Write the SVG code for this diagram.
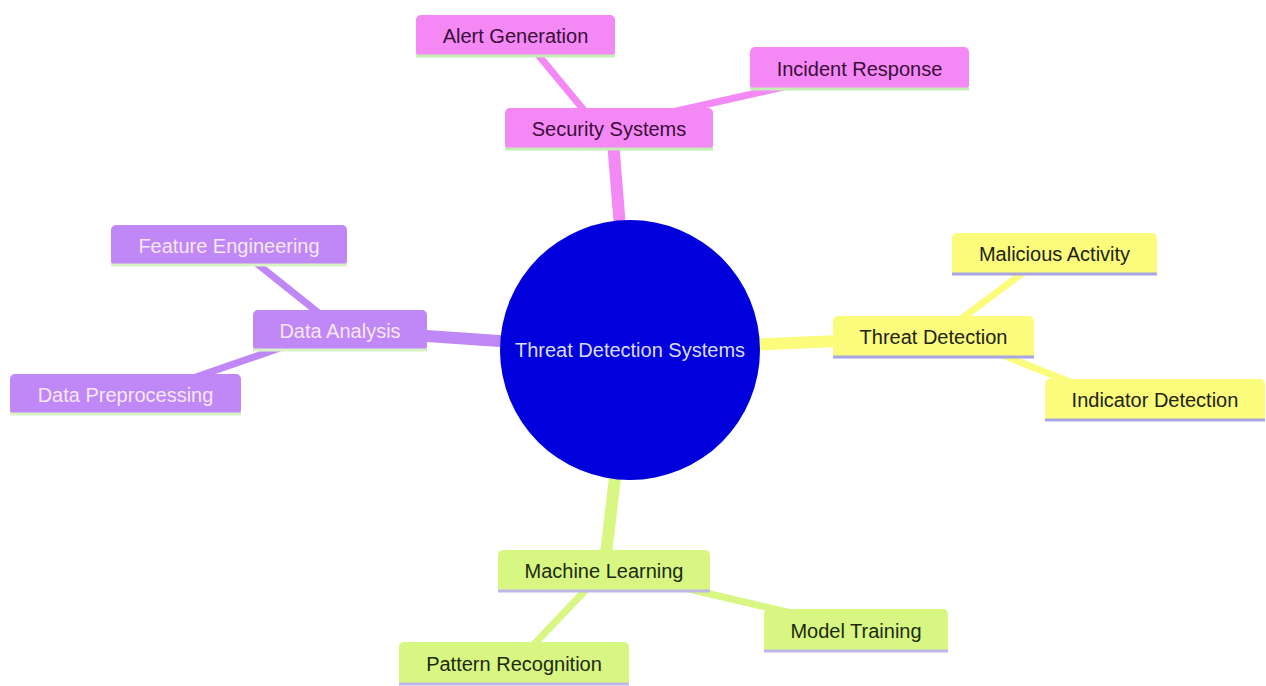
<svg xmlns="http://www.w3.org/2000/svg" width="1266" height="686" viewBox="0 0 1266 686">
<style>
.t{font-family:"Liberation Sans",Arial,sans-serif;font-size:20px;text-anchor:middle;dominant-baseline:central}
.pk rect{fill:#f488f4}.pk line{stroke:#c4eeb6}.pk text{fill:#3a0c3a}
.pu rect{fill:#c087f6}.pu line{stroke:#d8f2c4}.pu text{fill:#f6e8f6}
.ye rect{fill:#fbfb7c}.ye line{stroke:#a8a6e2}.ye text{fill:#222210}
.gr rect{fill:#d8f682}.gr line{stroke:#bdb6e6}.gr text{fill:#1c2a10}
.n line{stroke-width:3}
.e{fill:none;stroke-linecap:butt}
</style>
<rect width="1266" height="686" fill="#ffffff"/>
<g id="connectors">
<line class="e" x1="630" y1="350" x2="612" y2="129" stroke="#f488f4" stroke-width="12"/>
<line class="e" x1="630" y1="350" x2="933" y2="337" stroke="#fbfb7c" stroke-width="12"/>
<line class="e" x1="630" y1="350" x2="340" y2="330" stroke="#c087f6" stroke-width="12"/>
<line class="e" x1="630" y1="350" x2="604" y2="571" stroke="#d8f682" stroke-width="12"/>
<line class="e" x1="530" y1="45" x2="592" y2="120" stroke="#f488f4" stroke-width="7"/>
<line class="e" x1="650" y1="117" x2="810" y2="81" stroke="#f488f4" stroke-width="7"/>
<line class="e" x1="945" y1="331" x2="1040" y2="260" stroke="#fbfb7c" stroke-width="7"/>
<line class="e" x1="990" y1="350" x2="1090" y2="390" stroke="#fbfb7c" stroke-width="7"/>
<line class="e" x1="240" y1="250" x2="335" y2="326" stroke="#c087f6" stroke-width="7"/>
<line class="e" x1="300" y1="341" x2="170" y2="386" stroke="#c087f6" stroke-width="7"/>
<line class="e" x1="600" y1="575" x2="520" y2="659" stroke="#d8f682" stroke-width="7"/>
<line class="e" x1="680" y1="587" x2="800" y2="615" stroke="#d8f682" stroke-width="7"/>
</g>
<g id="root">
<circle cx="630" cy="350" r="130" fill="#0000dc"/>
<text class="t" x="630" y="350" fill="#dcdcff">Threat Detection Systems</text>
</g>
<g id="security-systems" class="n pk"><rect x="505" y="108" width="208" height="42" rx="5"/><line x1="505" y1="149" x2="713" y2="149"/><text class="t" x="609" y="129">Security Systems</text></g>
<g id="alert-generation" class="n pk"><rect x="416" y="15" width="199" height="42" rx="5"/><line x1="416" y1="56" x2="615" y2="56"/><text class="t" x="515.5" y="36">Alert Generation</text></g>
<g id="incident-response" class="n pk"><rect x="750" y="47" width="219" height="43" rx="5"/><line x1="750" y1="89" x2="969" y2="89"/><text class="t" x="859.5" y="68.5">Incident Response</text></g>
<g id="threat-detection" class="n ye"><rect x="833" y="316" width="201" height="42" rx="5"/><line x1="833" y1="357" x2="1034" y2="357"/><text class="t" x="933.5" y="337">Threat Detection</text></g>
<g id="malicious-activity" class="n ye"><rect x="952" y="233" width="205" height="42" rx="5"/><line x1="952" y1="274" x2="1157" y2="274"/><text class="t" x="1054.5" y="254">Malicious Activity</text></g>
<g id="indicator-detection" class="n ye"><rect x="1045" y="379" width="220" height="42" rx="5"/><line x1="1045" y1="420" x2="1265" y2="420"/><text class="t" x="1155" y="400">Indicator Detection</text></g>
<g id="data-analysis" class="n pu"><rect x="253" y="310" width="174" height="41" rx="5"/><line x1="253" y1="350" x2="427" y2="350"/><text class="t" x="340" y="330.5">Data Analysis</text></g>
<g id="feature-engineering" class="n pu"><rect x="111" y="225" width="236" height="41" rx="5"/><line x1="111" y1="265" x2="347" y2="265"/><text class="t" x="229" y="245.5">Feature Engineering</text></g>
<g id="data-preprocessing" class="n pu"><rect x="10" y="374" width="231" height="41" rx="5"/><line x1="10" y1="414" x2="241" y2="414"/><text class="t" x="125.5" y="394.5">Data Preprocessing</text></g>
<g id="machine-learning" class="n gr"><rect x="498" y="550" width="212" height="42" rx="5"/><line x1="498" y1="591" x2="710" y2="591"/><text class="t" x="604" y="571">Machine Learning</text></g>
<g id="model-training" class="n gr"><rect x="764" y="609" width="184" height="43" rx="5"/><line x1="764" y1="651" x2="948" y2="651"/><text class="t" x="856" y="630.5">Model Training</text></g>
<g id="pattern-recognition" class="n gr"><rect x="399" y="642" width="230" height="43" rx="5"/><line x1="399" y1="684" x2="629" y2="684"/><text class="t" x="514" y="663.5">Pattern Recognition</text></g>
</svg>
